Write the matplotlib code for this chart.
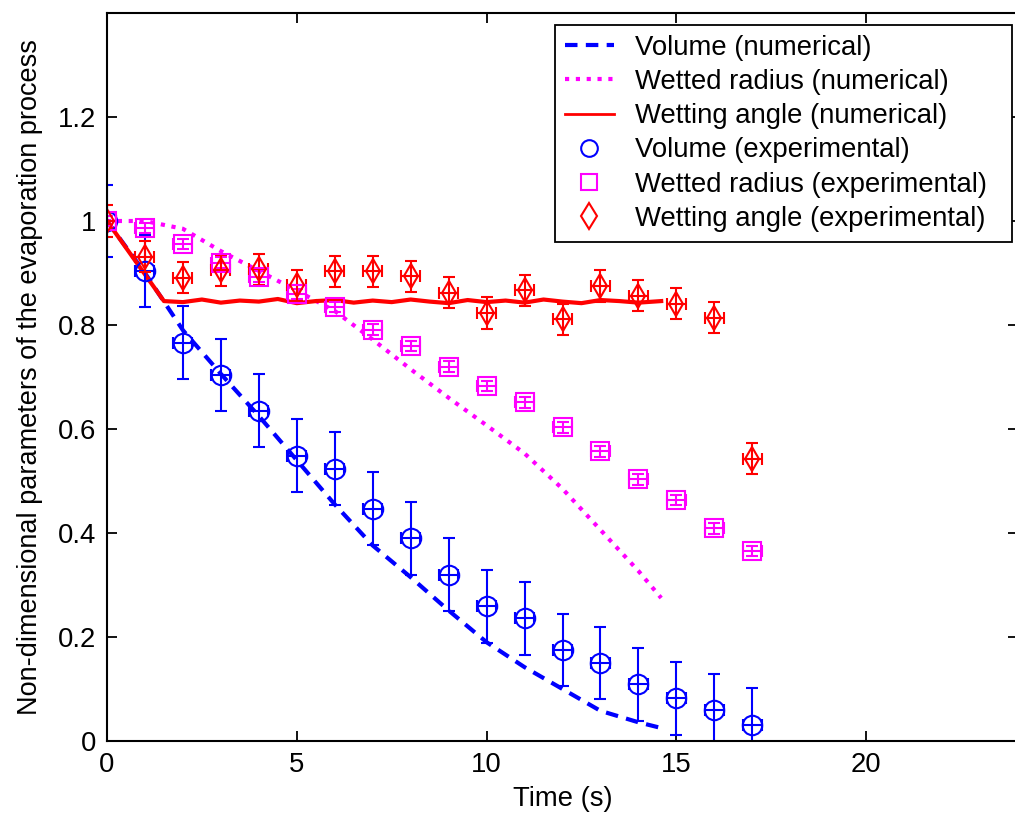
import matplotlib
matplotlib.use("Agg")
import matplotlib.pyplot as plt
from matplotlib.lines import Line2D
from matplotlib.ticker import FuncFormatter

plt.rcParams['font.family'] = ['Liberation Sans', 'DejaVu Sans']

# experimental data (time in s)
t_exp = [0, 1, 2, 3, 4, 5, 6, 7, 8, 9, 10, 11, 12, 13, 14, 15, 16, 17]
vol_exp = [1.0, 0.904, 0.766, 0.704, 0.635, 0.549, 0.524, 0.447, 0.39, 0.32,
           0.259, 0.236, 0.175, 0.15, 0.109, 0.082, 0.059, 0.031]
rad_exp = [1.0, 0.987, 0.956, 0.92, 0.893, 0.86, 0.835, 0.791, 0.76, 0.72,
           0.683, 0.651, 0.603, 0.557, 0.503, 0.463, 0.409, 0.365]
ang_exp = [1.0, 0.931, 0.891, 0.905, 0.907, 0.876, 0.903, 0.903, 0.894, 0.862,
           0.823, 0.867, 0.811, 0.875, 0.856, 0.841, 0.814, 0.543]
vol_err = 0.07
rad_err = 0.01
ang_err = 0.03
t_err = 0.25

# numerical results
t_num = [0, 1, 2, 3, 4, 5, 6, 7, 8, 9, 10, 11, 12, 13, 14, 14.6]
vol_num = [1.0, 0.9, 0.79, 0.706, 0.625, 0.54, 0.455, 0.376, 0.315, 0.251,
           0.19, 0.142, 0.1, 0.058, 0.036, 0.025]
rad_num = [1.0, 1.0, 0.985, 0.942, 0.904, 0.866, 0.827, 0.772, 0.715, 0.66,
           0.607, 0.553, 0.485, 0.406, 0.327, 0.275]
t_ang = [0, 1.5, 2, 2.5, 3, 3.5, 4, 4.5, 5, 5.5, 6, 6.5, 7, 7.5, 8, 8.5, 9,
         9.5, 10, 10.5, 11, 11.5, 12, 12.5, 13, 13.5, 14, 14.6]
ang_num = [1.0, 0.846, 0.844, 0.849, 0.843, 0.847, 0.845, 0.85, 0.842, 0.846,
           0.848, 0.843, 0.847, 0.844, 0.849, 0.845, 0.842, 0.848, 0.844,
           0.847, 0.843, 0.849, 0.845, 0.842, 0.848, 0.846, 0.843, 0.846]

fig = plt.figure(figsize=(10.15, 8.15), dpi=100)
ax = fig.add_axes([107 / 1015, 74 / 815, 911 / 1015, 728 / 815])

ax.plot(t_num, vol_num, color='b', ls=(0, (3, 2)), lw=3)
ax.plot(t_num, rad_num, color='#ff00ff', ls=(0, (1, 1.6)), lw=3)
ax.plot(t_ang, ang_num, color='r', ls='-', lw=3)

eb = dict(ls='none', capsize=4, elinewidth=1.5, capthick=1.5, mew=1.5)
ax.errorbar(t_exp, vol_exp, yerr=vol_err, xerr=t_err, fmt='o', ms=14,
            color='b', mfc='none', **eb)
ax.errorbar(t_exp, rad_exp, yerr=rad_err, xerr=t_err, fmt='s', ms=13,
            color='#ff00ff', mfc='none', **eb)
ax.errorbar(t_exp, ang_exp, yerr=ang_err, xerr=t_err, fmt='d', ms=12,
            color='r', mfc='none', **eb)

ax.set_xlim(0, 24)
ax.set_ylim(0, 1.4)
ax.set_xticks([0, 5, 10, 15, 20])
ax.set_yticks([0, 0.2, 0.4, 0.6, 0.8, 1.0, 1.2])
ax.yaxis.set_major_formatter(FuncFormatter(lambda v, p: f"{v:g}"))
ax.tick_params(direction='in', top=True, right=True, length=7, width=1.3,
               labelsize=19.8, pad=8)
for s in ax.spines.values():
    s.set_linewidth(1.5)

ax.set_xlabel('Time (s)', fontsize=19.8, labelpad=6)
ax.set_ylabel('Non-dimensional parameters of the evaporation process',
              fontsize=19.5, labelpad=10.5)

handles = [
    Line2D([], [], color='b', ls=(0, (3, 2)), lw=3),
    Line2D([], [], color='#ff00ff', ls=(0, (1, 1.6)), lw=3),
    Line2D([], [], color='r', lw=2),
    Line2D([], [], color='b', ls='none', marker='o', ms=12, mfc='none', mew=1.5),
    Line2D([], [], color='#ff00ff', ls='none', marker='s', ms=12, mfc='none', mew=1.5),
    Line2D([], [], color='r', ls='none', marker='d', ms=13, mfc='none', mew=1.5),
]
labels = ['Volume (numerical)', 'Wetted radius (numerical)',
          'Wetting angle (numerical)', 'Volume (experimental)',
          'Wetted radius (experimental)', 'Wetting angle (experimental)']
leg = fig.legend(handles, labels, loc='upper left', mode='expand',
                 bbox_to_anchor=(555 / 1015, 576 / 815, 457 / 1015, 214 / 815),
                 fontsize=19.8, fancybox=False, framealpha=1,
                 edgecolor='k', handlelength=1.8, labelspacing=0.3,
                 borderpad=0.35, handletextpad=0.75, borderaxespad=0)
leg.get_frame().set_linewidth(1.3)

fig.savefig('out.png', dpi=100)
